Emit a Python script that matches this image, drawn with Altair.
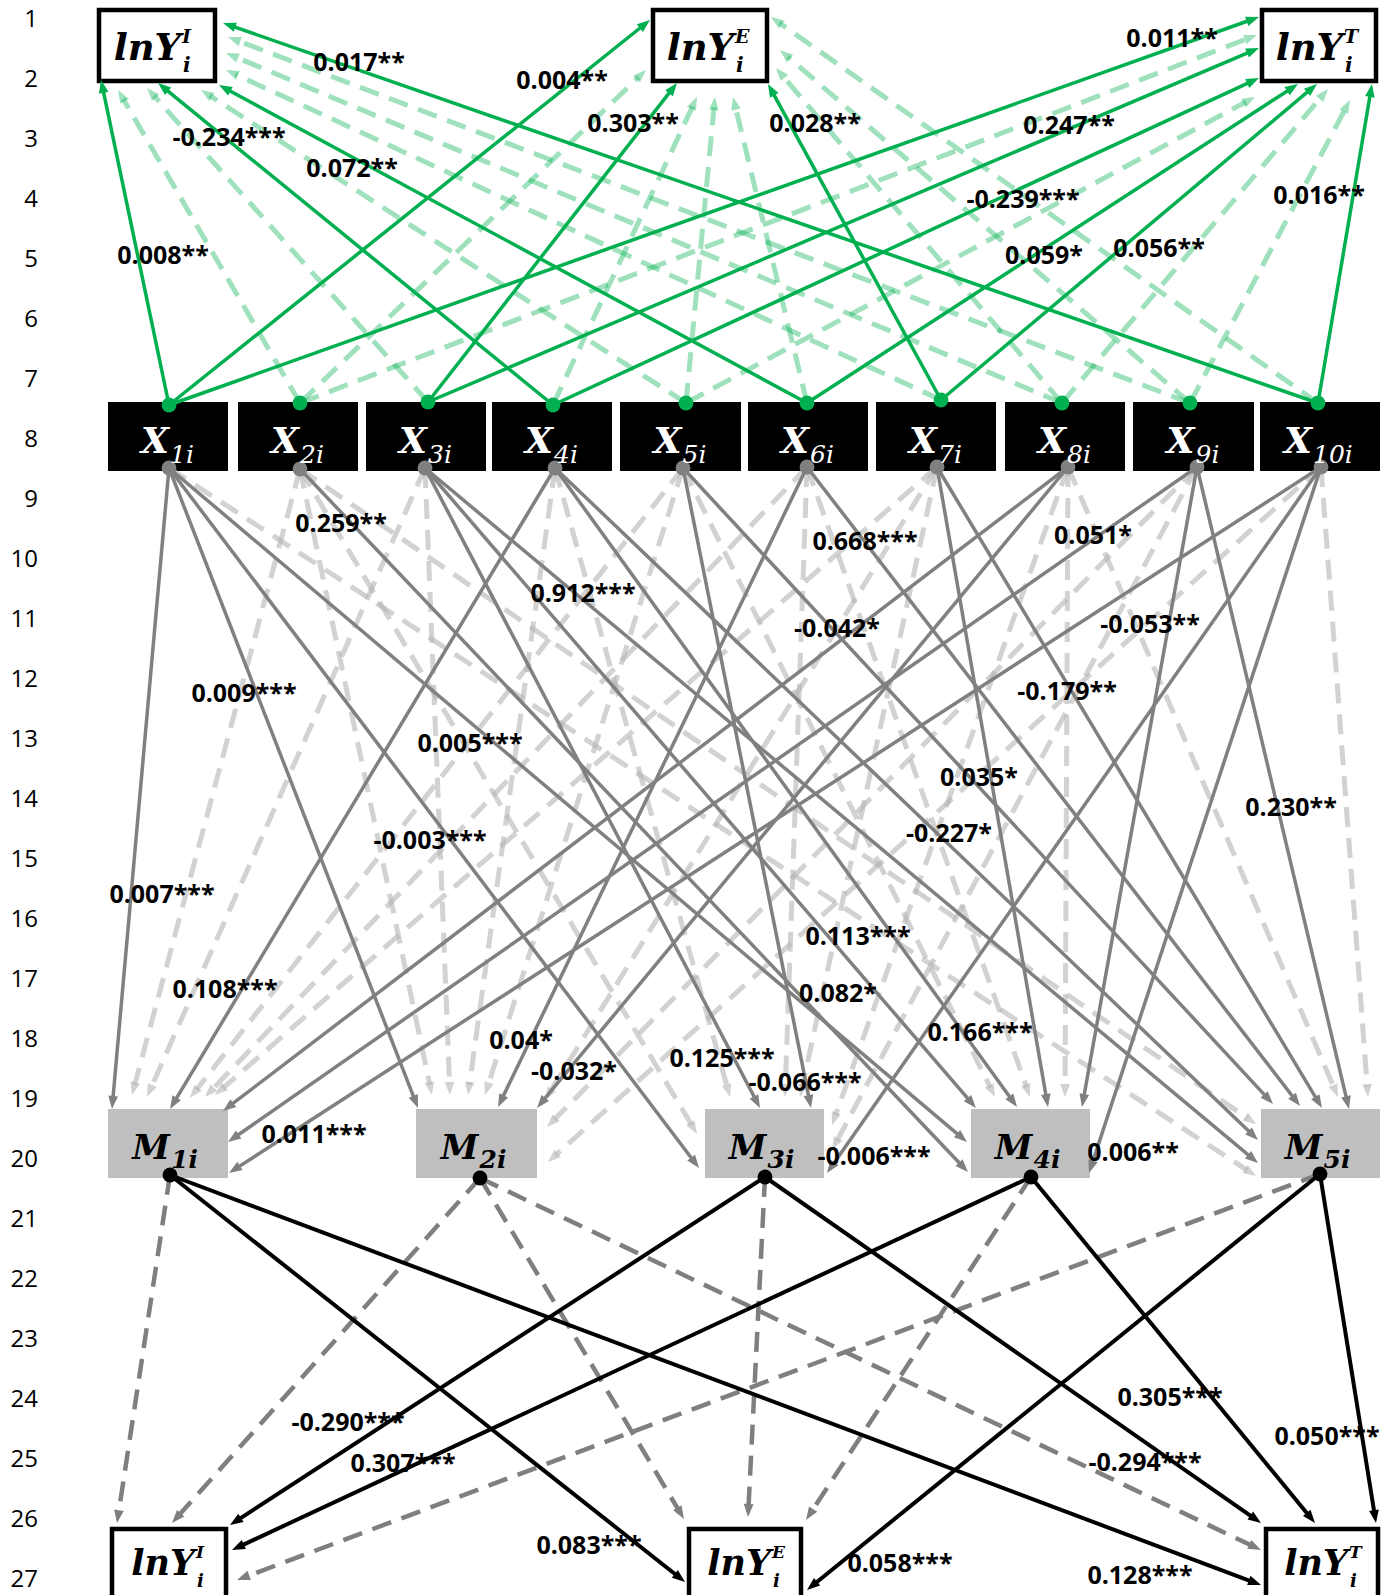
import math
import altair as alt
import pandas as pd

W, H = 1388, 1595

# ---------------- data ----------------
ROWS = list(range(1, 28))

X_NODES = ["X1", "X2", "X3", "X4", "X5", "X6", "X7", "X8", "X9", "X10"]
X_SUBS = ["1i", "2i", "3i", "4i", "5i", "6i", "7i", "8i", "9i", "10i"]
M_NODES = ["M1", "M2", "M3", "M4", "M5"]
M_SUBS = ["1i", "2i", "3i", "4i", "5i"]
Y_NODES = ["I", "E", "T"]

# (source, target, coefficient) ; "" = not significant (dashed)
TOP_EDGES = [
    ("X1", "I", "0.008**"), ("X1", "E", "0.004**"), ("X1", "T", "0.011**"),
    ("X2", "I", ""), ("X2", "E", ""), ("X2", "T", ""),
    ("X3", "I", ""), ("X3", "E", "0.303**"), ("X3", "T", "0.247**"),
    ("X4", "I", "-0.234***"), ("X4", "E", ""), ("X4", "T", "-0.239***"),
    ("X5", "I", ""), ("X5", "E", ""), ("X5", "T", ""),
    ("X6", "I", "0.072**"), ("X6", "E", ""), ("X6", "T", "0.059*"),
    ("X7", "I", ""), ("X7", "E", "0.028**"), ("X7", "T", "0.056**"),
    ("X8", "I", ""), ("X8", "E", ""), ("X8", "T", ""),
    ("X9", "I", ""), ("X9", "E", ""), ("X9", "T", ""),
    ("X10", "I", "0.017**"), ("X10", "E", ""), ("X10", "T", "0.016**"),
]

MID_EDGES = [
    ("X1", "M1", "0.007***"), ("X1", "M2", "0.009***"), ("X1", "M3", "-0.003***"),
    ("X1", "M4", "0.005***"), ("X1", "M5", ""),
    ("X2", "M1", ""), ("X2", "M2", ""), ("X2", "M3", ""), ("X2", "M4", "0.259**"), ("X2", "M5", ""),
    ("X3", "M1", ""), ("X3", "M2", ""), ("X3", "M3", "0.125***"), ("X3", "M4", "0.113***"),
    ("X3", "M5", "0.912***"),
    ("X4", "M1", "0.108***"), ("X4", "M2", ""), ("X4", "M3", ""), ("X4", "M4", "0.166***"),
    ("X4", "M5", "-0.227*"),
    ("X5", "M1", ""), ("X5", "M2", ""), ("X5", "M3", "-0.066***"), ("X5", "M4", ""), ("X5", "M5", "0.082*"),
    ("X6", "M1", ""), ("X6", "M2", "0.04*"), ("X6", "M3", ""), ("X6", "M4", ""), ("X6", "M5", "0.668***"),
    ("X7", "M1", ""), ("X7", "M2", ""), ("X7", "M3", ""), ("X7", "M4", "0.035*"), ("X7", "M5", "-0.179**"),
    ("X8", "M1", "-0.042*"), ("X8", "M2", "-0.032*"), ("X8", "M3", ""), ("X8", "M4", ""), ("X8", "M5", ""),
    ("X9", "M1", "0.051*"), ("X9", "M2", ""), ("X9", "M3", ""), ("X9", "M4", "0.011***"),
    ("X9", "M5", "0.230**"),
    ("X10", "M1", "-0.053**"), ("X10", "M2", ""), ("X10", "M3", "-0.006***"), ("X10", "M4", "0.006**"),
    ("X10", "M5", ""),
]

BOT_EDGES = [
    ("M1", "I", ""), ("M1", "E", "0.083***"), ("M1", "T", "0.128***"),
    ("M2", "I", ""), ("M2", "E", ""), ("M2", "T", ""),
    ("M3", "I", "-0.290***"), ("M3", "E", ""), ("M3", "T", "-0.294***"),
    ("M4", "I", "0.307***"), ("M4", "E", ""), ("M4", "T", "0.305***"),
    ("M5", "I", ""), ("M5", "E", "0.058***"), ("M5", "T", "0.050***"),
]

# ---------------- layout (pixel positions) ----------------
ROW_Y0, ROW_STEP, ROW_LABEL_X = 20, 60, 38

X_BOX = {"X1": (108, 228), "X2": (238, 358), "X3": (366, 486), "X4": (492, 612), "X5": (620, 741),
         "X6": (748, 868), "X7": (876, 996), "X8": (1005, 1125), "X9": (1133, 1254), "X10": (1260, 1380)}
X_BOX_Y = (402, 471)
X_TOP_DOT = {"X1": (169, 405), "X2": (300, 403), "X3": (428, 402), "X4": (553, 405), "X5": (686, 403),
             "X6": (807, 403), "X7": (941, 400), "X8": (1062, 403), "X9": (1190, 403), "X10": (1318, 403)}
X_BOT_DOT = {"X1": (169, 468), "X2": (300, 469), "X3": (425, 468), "X4": (555, 468), "X5": (683, 468),
             "X6": (807, 467), "X7": (937, 467), "X8": (1068, 467), "X9": (1197, 467), "X10": (1321, 467)}

M_BOX = {"M1": (108, 228), "M2": (416, 537), "M3": (705, 824), "M4": (971, 1090), "M5": (1261, 1380)}
M_BOX_Y = (1109, 1178)
M_DOT = {"M1": (170, 1175), "M2": (480, 1178), "M3": (765, 1177), "M4": (1031, 1177), "M5": (1320, 1174)}

YTOP_BOX = {"I": (97, 217), "E": (651, 769), "T": (1260, 1378)}
YTOP_Y = (8, 83)
YBOT_BOX = {"I": (110, 228), "E": (687, 803), "T": (1264, 1380)}
YBOT_Y = (1527, 1601)

TIP = {
    # X -> top outcome boxes
    ("X1", "I"): (101, 80), ("X2", "I"): (118, 90), ("X3", "I"): (147, 88), ("X4", "I"): (158, 83),
    ("X5", "I"): (201, 90), ("X6", "I"): (219, 85), ("X7", "I"): (226, 70), ("X8", "I"): (226, 53),
    ("X9", "I"): (228, 37), ("X10", "I"): (223, 23),
    ("X1", "E"): (650, 20), ("X2", "E"): (646, 70), ("X3", "E"): (677, 83), ("X4", "E"): (697, 97),
    ("X5", "E"): (715, 97), ("X6", "E"): (733, 97), ("X7", "E"): (768, 84), ("X8", "E"): (776, 68),
    ("X9", "E"): (780, 50), ("X10", "E"): (771, 17),
    ("X1", "T"): (1259, 17), ("X2", "T"): (1257, 35), ("X3", "T"): (1259, 48), ("X4", "T"): (1259, 78),
    ("X5", "T"): (1255, 97), ("X6", "T"): (1298, 84), ("X7", "T"): (1317, 84), ("X8", "T"): (1328, 89),
    ("X9", "T"): (1350, 100), ("X10", "T"): (1372, 84),
    # X -> M
    ("X1", "M1"): (112, 1109), ("X1", "M2"): (418, 1108), ("X1", "M3"): (699, 1168), ("X1", "M4"): (967, 1142),
    ("X1", "M5"): (1256, 1176),
    ("X2", "M1"): (132, 1095), ("X2", "M2"): (432, 1095), ("X2", "M3"): (697, 1134), ("X2", "M4"): (968, 1172),
    ("X2", "M5"): (1256, 1124),
    ("X3", "M1"): (147, 1097), ("X3", "M2"): (450, 1095), ("X3", "M3"): (760, 1108), ("X3", "M4"): (976, 1108),
    ("X3", "M5"): (1258, 1163),
    ("X4", "M1"): (170, 1109), ("X4", "M2"): (468, 1095), ("X4", "M3"): (730, 1097), ("X4", "M4"): (1017, 1107),
    ("X4", "M5"): (1258, 1140),
    ("X5", "M1"): (190, 1098), ("X5", "M2"): (485, 1095), ("X5", "M3"): (811, 1108), ("X5", "M4"): (995, 1097),
    ("X5", "M5"): (1273, 1104),
    ("X6", "M1"): (205, 1097), ("X6", "M2"): (498, 1107), ("X6", "M3"): (785, 1097), ("X6", "M4"): (1030, 1097),
    ("X6", "M5"): (1300, 1106),
    ("X7", "M1"): (215, 1095), ("X7", "M2"): (545, 1100), ("X7", "M3"): (800, 1097), ("X7", "M4"): (1048, 1107),
    ("X7", "M5"): (1322, 1108),
    ("X8", "M1"): (223, 1111), ("X8", "M2"): (537, 1108), ("X8", "M3"): (832, 1125), ("X8", "M4"): (1065, 1097),
    ("X8", "M5"): (1338, 1097),
    ("X9", "M1"): (228, 1142), ("X9", "M2"): (547, 1127), ("X9", "M3"): (832, 1150), ("X9", "M4"): (1082, 1107),
    ("X9", "M5"): (1349, 1109),
    ("X10", "M1"): (229, 1173), ("X10", "M2"): (548, 1162), ("X10", "M3"): (827, 1173), ("X10", "M4"): (1089, 1173),
    ("X10", "M5"): (1368, 1097),
    # M -> bottom outcome boxes
    ("M1", "I"): (117, 1523), ("M1", "E"): (685, 1582), ("M1", "T"): (1261, 1585),
    ("M2", "I"): (172, 1523), ("M2", "E"): (684, 1519), ("M2", "T"): (1261, 1550),
    ("M3", "I"): (230, 1525), ("M3", "E"): (748, 1517), ("M3", "T"): (1261, 1523),
    ("M4", "I"): (232, 1550), ("M4", "E"): (806, 1520), ("M4", "T"): (1315, 1523),
    ("M5", "I"): (237, 1580), ("M5", "E"): (807, 1590), ("M5", "T"): (1376, 1523),
}

LABEL_AT = {
    ("X1", "I"): (163, 256), ("X1", "E"): (562, 81), ("X1", "T"): (1172, 39),
    ("X3", "E"): (633, 124), ("X3", "T"): (1069, 126), ("X4", "I"): (229, 138),
    ("X4", "T"): (1023, 200), ("X6", "I"): (352, 169), ("X6", "T"): (1044, 256),
    ("X7", "E"): (815, 124), ("X7", "T"): (1159, 249), ("X10", "I"): (359, 63),
    ("X10", "T"): (1319, 196),
    ("X1", "M1"): (162, 895), ("X1", "M2"): (244, 694), ("X1", "M3"): (430, 841),
    ("X1", "M4"): (470, 744), ("X2", "M4"): (341, 524), ("X3", "M3"): (722, 1059),
    ("X3", "M4"): (858, 937), ("X3", "M5"): (583, 594), ("X4", "M1"): (225, 990),
    ("X4", "M4"): (980, 1033), ("X4", "M5"): (949, 834), ("X5", "M3"): (805, 1083),
    ("X5", "M5"): (838, 994), ("X6", "M2"): (521, 1041), ("X6", "M5"): (865, 542),
    ("X7", "M4"): (979, 778), ("X7", "M5"): (1067, 692), ("X8", "M1"): (837, 629),
    ("X8", "M2"): (574, 1072), ("X9", "M1"): (1093, 536), ("X9", "M4"): (314, 1135),
    ("X9", "M5"): (1291, 808), ("X10", "M1"): (1150, 625), ("X10", "M3"): (874, 1157),
    ("X10", "M4"): (1133, 1153),
    ("M1", "E"): (589, 1546), ("M1", "T"): (1140, 1576), ("M3", "I"): (348, 1423),
    ("M3", "T"): (1145, 1463), ("M4", "I"): (403, 1464), ("M4", "T"): (1170, 1398),
    ("M5", "E"): (900, 1564), ("M5", "T"): (1327, 1437),
}

ARROW_LEN = 13
ARROW_PATH = "M0,-1L0.75,1L-0.75,1Z"

STYLE = {
    ("top", True): dict(color="#00B050", strokeWidth=3.5, opacity=1.0, dash=None),
    ("top", False): dict(color="#00B050", strokeWidth=5, opacity=0.38, dash=[20, 11]),
    ("mid", True): dict(color="#808080", strokeWidth=3.5, opacity=1.0, dash=None),
    ("mid", False): dict(color="#B4B4B4", strokeWidth=5, opacity=0.6, dash=[20, 11]),
    ("bot", True): dict(color="#000000", strokeWidth=4, opacity=1.0, dash=None),
    ("bot", False): dict(color="#7F7F7F", strokeWidth=4.5, opacity=1.0, dash=[20, 11]),
}

XS = alt.Scale(domain=[0, W], nice=False, zero=False)
YS = alt.Scale(domain=[0, H], nice=False, zero=False, reverse=True)


def X(f):
    return alt.X(f"{f}:Q", scale=XS, axis=None)


def Y(f):
    return alt.Y(f"{f}:Q", scale=YS, axis=None)


def edge_rows(edges, start_of, section):
    rows = []
    for s, t, coef in edges:
        sx, sy = start_of[s]
        tx, ty = TIP[(s, t)]
        dx, dy = tx - sx, ty - sy
        d = math.hypot(dx, dy)
        ux, uy = dx / d, dy / d
        lx, ly = LABEL_AT.get((s, t), (None, None))
        rows.append(dict(section=section, src=s, tgt=t, coef=coef, sig=coef != "",
                         x=sx, y=sy, x2=tx - ux * ARROW_LEN * 0.8, y2=ty - uy * ARROW_LEN * 0.8,
                         ax=tx - ux * ARROW_LEN / 2, ay=ty - uy * ARROW_LEN / 2,
                         angle=(math.degrees(math.atan2(ux, -uy)) + 360) % 360,
                         lx=lx, ly=ly))
    return rows


edges = pd.DataFrame(
    edge_rows(TOP_EDGES, X_TOP_DOT, "top")
    + edge_rows(MID_EDGES, X_BOT_DOT, "mid")
    + edge_rows(BOT_EDGES, M_DOT, "bot")
)

layers = []

# ---- boxes ----
box_rows = []
for n in X_NODES:
    x0, x1 = X_BOX[n]
    box_rows.append(dict(kind="X", x=x0, x2=x1, y=X_BOX_Y[0], y2=X_BOX_Y[1]))
for n in M_NODES:
    x0, x1 = M_BOX[n]
    box_rows.append(dict(kind="M", x=x0, x2=x1, y=M_BOX_Y[0], y2=M_BOX_Y[1]))
for n in Y_NODES:
    x0, x1 = YTOP_BOX[n]
    box_rows.append(dict(kind="Y", x=x0 + 2, x2=x1 - 2, y=YTOP_Y[0] + 2, y2=YTOP_Y[1] - 2))
    x0, x1 = YBOT_BOX[n]
    box_rows.append(dict(kind="Y", x=x0 + 2, x2=x1 - 2, y=YBOT_Y[0] + 2, y2=YBOT_Y[1]))
boxes = pd.DataFrame(box_rows)

layers.append(alt.Chart(boxes[boxes.kind == "X"]).mark_rect(color="#000000").encode(
    x=X("x"), x2="x2", y=Y("y"), y2="y2"))
layers.append(alt.Chart(boxes[boxes.kind == "M"]).mark_rect(color="#BFBFBF").encode(
    x=X("x"), x2="x2", y=Y("y"), y2="y2"))
layers.append(alt.Chart(boxes[boxes.kind == "Y"]).mark_rect(fill="#FFFFFF", stroke="#000000", strokeWidth=4.5).encode(
    x=X("x"), x2="x2", y=Y("y"), y2="y2"))

# ---- edges: dashed first, then solid ----
for sig in (False, True):
    for section in ("top", "mid", "bot"):
        st = STYLE[(section, sig)]
        sub = edges[(edges.section == section) & (edges.sig == sig)]
        kw = dict(color=st["color"], strokeWidth=st["strokeWidth"], opacity=st["opacity"])
        if st["dash"]:
            kw["strokeDash"] = st["dash"]
        layers.append(alt.Chart(sub).mark_rule(**kw).encode(x=X("x"), y=Y("y"), x2="x2", y2="y2"))
        layers.append(alt.Chart(sub).mark_point(
            shape=ARROW_PATH, filled=True, size=ARROW_LEN ** 2, color=st["color"],
            opacity=st["opacity"], strokeWidth=0).encode(
            x=X("ax"), y=Y("ay"), angle=alt.Angle("angle:Q", scale=None)))

# ---- dots ----
dots = pd.DataFrame(
    [dict(kind="g", x=X_TOP_DOT[n][0], y=X_TOP_DOT[n][1]) for n in X_NODES]
    + [dict(kind="s", x=X_BOT_DOT[n][0], y=X_BOT_DOT[n][1]) for n in X_NODES]
    + [dict(kind="k", x=M_DOT[n][0], y=M_DOT[n][1]) for n in M_NODES]
)
for kind, col in (("g", "#00B050"), ("s", "#808080"), ("k", "#000000")):
    layers.append(alt.Chart(dots[dots.kind == kind]).mark_circle(size=220, color=col, opacity=1).encode(
        x=X("x"), y=Y("y")))

# ---- node labels ----
SERIF = "DejaVu Serif"
xl = []
for n, s in zip(X_NODES, X_SUBS):
    cx = (X_BOX[n][0] + X_BOX[n][1]) / 2
    xr = cx + 1 - 9 * (len(s) - 2)
    xl.append(dict(x=xr, y=453, t="X", sx=xr + 1, sy=463, s=s))
xl = pd.DataFrame(xl)
layers.append(alt.Chart(xl).mark_text(font=SERIF, fontSize=36, fontWeight="bold", fontStyle="italic",
                                      color="white", align="right", baseline="alphabetic").encode(
    x=X("x"), y=Y("y"), text="t:N"))
layers.append(alt.Chart(xl).mark_text(font=SERIF, fontSize=25, fontStyle="italic",
                                      color="white", align="left", baseline="alphabetic").encode(
    x=X("sx"), y=Y("sy"), text="s:N"))

ml = []
for n, s in zip(M_NODES, M_SUBS):
    cx = (M_BOX[n][0] + M_BOX[n][1]) / 2
    ml.append(dict(x=cx + 2, y=1159, t="M", sx=cx + 3, sy=1168, s=s))
ml = pd.DataFrame(ml)
layers.append(alt.Chart(ml).mark_text(font=SERIF, fontSize=34, fontWeight="bold", fontStyle="italic",
                                      color="black", align="right", baseline="alphabetic").encode(
    x=X("x"), y=Y("y"), text="t:N"))
layers.append(alt.Chart(ml).mark_text(font=SERIF, fontSize=25, fontWeight="bold", fontStyle="italic",
                                      color="black", align="left", baseline="alphabetic").encode(
    x=X("sx"), y=Y("sy"), text="s:N"))

yl = []
for n in Y_NODES:
    cx = (YTOP_BOX[n][0] + YTOP_BOX[n][1]) / 2
    yl.append(dict(grp="top", x=cx + 24, y=60, t="lnY", px=cx + 25, py=43, sx=cx + 26, sy=72, p=n))
    cx = (YBOT_BOX[n][0] + YBOT_BOX[n][1]) / 2
    yl.append(dict(grp="bot", x=cx + 26, y=1575, t="lnY", px=cx + 27, py=1558, sx=cx + 28, sy=1587, p=n))
yl = pd.DataFrame(yl)
for grp, fs, ss in (("top", 37, 19), ("bot", 35, 17)):
    d = yl[yl.grp == grp]
    layers.append(alt.Chart(d).mark_text(font=SERIF, fontSize=fs, fontWeight="bold", fontStyle="italic",
                                         color="black", align="right", baseline="alphabetic").encode(
        x=X("x"), y=Y("y"), text="t:N"))
    layers.append(alt.Chart(d).mark_text(font=SERIF, fontSize=ss, fontWeight="bold", fontStyle="italic",
                                         color="black", align="left", baseline="alphabetic").encode(
        x=X("px"), y=Y("py"), text="p:N"))
    layers.append(alt.Chart(d.assign(i="i")).mark_text(font=SERIF, fontSize=ss + 1, fontWeight="bold",
                                                       fontStyle="italic", color="black", align="left",
                                                       baseline="alphabetic").encode(
        x=X("sx"), y=Y("sy"), text="i:N"))

# ---- coefficient labels ----
labs = edges[edges.sig]
layers.append(alt.Chart(labs).mark_text(font="Open Sans", fontSize=25, fontWeight="bold", color="black",
                                        align="center", baseline="middle").encode(
    x=X("lx"), y=Y("ly"), text="coef:N"))

# ---- row numbers ----
rows_df = pd.DataFrame({"row": ROWS})
rows_df["y"] = ROW_Y0 + (rows_df["row"] - 1) * ROW_STEP
rows_df["x"] = ROW_LABEL_X
layers.append(alt.Chart(rows_df).mark_text(font="Open Sans", fontSize=24, color="black", align="right",
                                           baseline="middle").encode(
    x=X("x"), y=Y("y"), text="row:N"))

chart = alt.layer(*layers).properties(
    width=W, height=H, autosize=alt.AutoSizeParams(type="none"), padding=0, background="white"
).configure_view(stroke=None)

chart.save("out.html", embed_options={"renderer": "svg", "actions": False})
